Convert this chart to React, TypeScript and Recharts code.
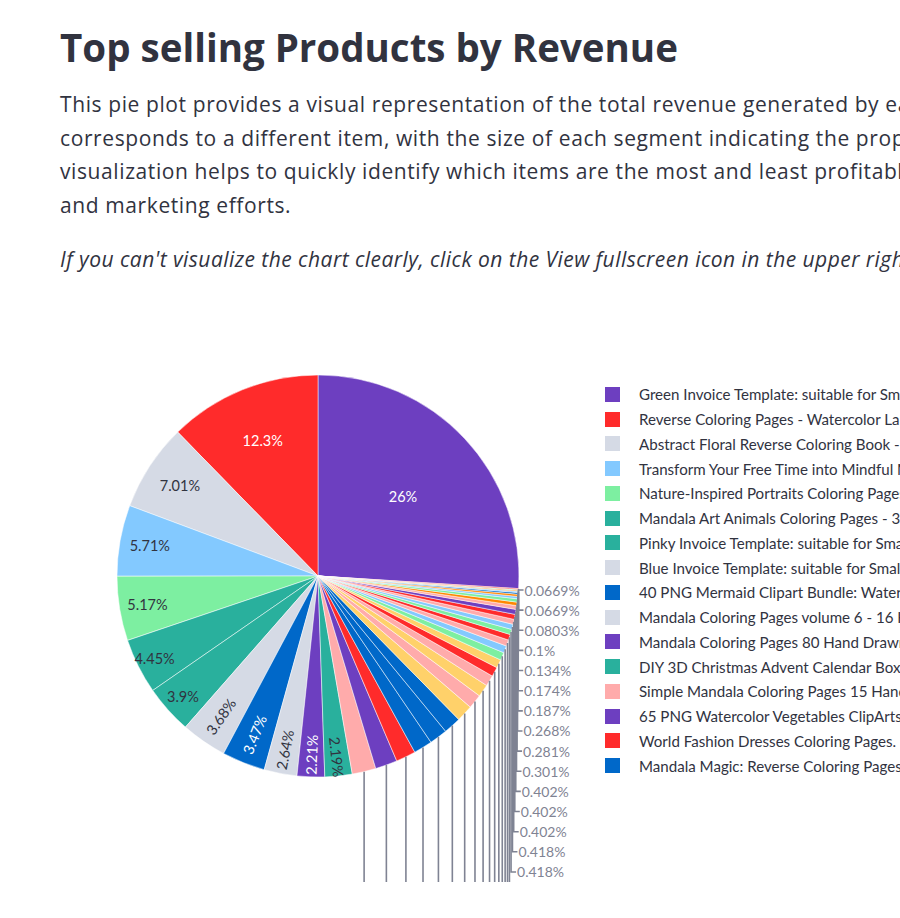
import { PieChart, Pie, Cell, Legend } from "recharts";

// Streamlit categorical palette
const PURPLE = "#6d3fc0";
const RED = "#ff2b2b";
const GREY = "#d5dae5";
const LIGHT_BLUE = "#83c9ff";
const GREEN = "#7defa1";
const TEAL = "#29b09d";
const BLUE = "#0068c9";
const PINK = "#ffabab";
const YELLOW = "#ffd16a";
const ORANGE = "#ff8700";

const productNames = [
  "Green Invoice Template: suitable for Small Business",
  "Reverse Coloring Pages - Watercolor Landscapes",
  "Abstract Floral Reverse Coloring Book - 30 Pages",
  "Transform Your Free Time into Mindful Moments",
  "Nature-Inspired Portraits Coloring Pages",
  "Mandala Art Animals Coloring Pages - 30 Pages",
  "Pinky Invoice Template: suitable for Small Business",
  "Blue Invoice Template: suitable for Small Business",
  "40 PNG Mermaid Clipart Bundle: Watercolor",
  "Mandala Coloring Pages volume 6 - 16 Hand Drawn",
  "Mandala Coloring Pages 80 Hand Drawn",
  "DIY 3D Christmas Advent Calendar Boxes",
  "Simple Mandala Coloring Pages 15 Hand Drawn",
  "65 PNG Watercolor Vegetables ClipArts - Bundle",
  "World Fashion Dresses Coloring Pages. Fashion",
  "Mandala Magic: Reverse Coloring Pages for Adults",
];

// share of total revenue, %, largest first
const revenueShare = [
  26, 12.3, 7.01, 5.71, 5.17, 4.45, 3.9, 3.68, 3.47, 2.64, 2.21, 2.19,
  1.91, 1.77, 1.59, 1.5, 1.45, 1.4,
  1.34, 1.15, 1.0, 0.87, 0.76, 0.68, 0.62, 0.57, 0.5, 0.46,
  0.418, 0.418, 0.402, 0.402, 0.402, 0.301, 0.281, 0.268, 0.187, 0.174,
  0.134, 0.1, 0.0803, 0.0669, 0.0669,
];

const sliceColors = [
  PURPLE, RED, GREY, LIGHT_BLUE, GREEN, TEAL, TEAL, GREY, BLUE, GREY, PURPLE, TEAL,
  PINK, PURPLE, RED, BLUE, BLUE, BLUE,
  YELLOW, PINK, YELLOW, PINK, RED, YELLOW, GREEN, LIGHT_BLUE, PINK, RED,
  GREEN, LIGHT_BLUE, PINK, RED, PURPLE, PINK, ORANGE, GREEN, LIGHT_BLUE, ORANGE,
  BLUE, LIGHT_BLUE, ORANGE, GREEN, RED,
];

const data = revenueShare.map((share, i) => ({
  name: productNames[i] ?? "",
  share,
}));

const TEXT = "#31333f";
const MUTED = "#7f8393";
const DARK_FILLS = [PURPLE, RED, BLUE];
const RAD = Math.PI / 180;

// slices 0..11 carry their label inside, the rest get a leader line
const INSIDE_COUNT = 12;
const insideRadius = [0.58, 0.73, 0.82, 0.85, 0.86, 0.91, 0.9, 0.85, 0.85, 0.88, 0.89, 0.905];
const LABEL_TOP = 290;
const LABEL_STEP = 20.14;
const LEGEND_ROWS = 16;

function renderSliceLabel(props: any) {
  const { cx, cy, midAngle, outerRadius, index, value } = props;
  const cos = Math.cos(-midAngle * RAD);
  const sin = Math.sin(-midAngle * RAD);
  const text = `${value}%`;

  if (index < INSIDE_COUNT) {
    const r = outerRadius * insideRadius[index];
    const x = cx + r * cos;
    const y = cy + r * sin;
    let rotate = 0;
    if (index >= 7) {
      rotate = -midAngle;
      while (rotate < -90) rotate += 180;
      while (rotate > 90) rotate -= 180;
    }
    return (
      <text
        key={`in-${index}`}
        x={x}
        y={y}
        textAnchor="middle"
        dominantBaseline="central"
        transform={`rotate(${rotate} ${x} ${y})`}
        fill={DARK_FILLS.includes(sliceColors[index]) ? "#ffffff" : TEXT}
        fontFamily="Lato, sans-serif"
        fontSize={14.5}
      >
        {text}
      </text>
    );
  }

  const ex = cx + outerRadius * cos;
  const ey = cy + outerRadius * sin;
  const ly = LABEL_TOP + (revenueShare.length - 1 - index) * LABEL_STEP;
  return (
    <g key={`out-${index}`}>
      <path d={`M${ex},${ey}V${ly}H${ex + 5}`} stroke={MUTED} strokeWidth={1.6} fill="none" />
      <text
        x={ex + 6}
        y={ly}
        dominantBaseline="central"
        fill={MUTED}
        fontFamily="Lato, sans-serif"
        fontSize={14}
      >
        {text}
      </text>
    </g>
  );
}

// legend box only shows its first rows, like a scrolled legend
function renderLegend() {
  return (
    <div>
      {productNames.slice(0, LEGEND_ROWS).map((name, i) => (
        <div key={i} style={{ display: "flex", alignItems: "center", height: 24.75 }}>
          <span
            style={{
              width: 15,
              height: 15,
              background: sliceColors[i],
              marginRight: 19,
              flex: "none",
            }}
          />
          <span
            style={{
              fontFamily: "Lato, sans-serif",
              fontSize: 15.1,
              color: TEXT,
              whiteSpace: "nowrap",
            }}
          >
            {name}
          </span>
        </div>
      ))}
    </div>
  );
}

const bodyFont = "'Open Sans', sans-serif";

const introLines = [
  "This pie plot provides a visual representation of the total revenue generated by each product. Each slice",
  "corresponds to a different item, with the size of each segment indicating the proportion of revenue. This",
  "visualization helps to quickly identify which items are the most and least profitable, guiding inventory",
  "and marketing efforts.",
];

export default function App() {
  return (
    <div
      style={{
        position: "fixed",
        left: 0,
        top: 0,
        width: 900,
        height: 918,
        overflow: "hidden",
        background: "#ffffff",
        color: TEXT,
      }}
    >
      <div
        style={{
          position: "absolute",
          left: 60,
          top: 24,
          fontFamily: bodyFont,
          fontWeight: 700,
          fontSize: 38.5,
          lineHeight: "46px",
          whiteSpace: "nowrap",
        }}
      >
        Top selling Products by Revenue
      </div>
      <div
        style={{
          position: "absolute",
          left: 60,
          top: 88,
          fontFamily: bodyFont,
          fontSize: 21,
          letterSpacing: 0.6,
          lineHeight: "33.5px",
          whiteSpace: "nowrap",
        }}
      >
        {introLines.map((line, i) => (
          <div key={i}>{line}</div>
        ))}
      </div>
      <div
        style={{
          position: "absolute",
          left: 60,
          top: 243,
          fontFamily: bodyFont,
          fontStyle: "italic",
          fontSize: 21,
          letterSpacing: 0.45,
          lineHeight: "33.5px",
          whiteSpace: "nowrap",
        }}
      >
        If you can't visualize the chart clearly, click on the View fullscreen icon in the upper right corner.
      </div>

      <div style={{ position: "absolute", left: 0, top: 300, width: 900, height: 582, overflow: "hidden" }}>
        <PieChart width={900} height={582} margin={{ top: 0, right: 0, bottom: 0, left: 0 }}>
          <Pie
            data={data}
            dataKey="share"
            nameKey="name"
            cx={318}
            cy={276}
            outerRadius={201}
            startAngle={90 - revenueShare[0] * 3.6}
            endAngle={450 - revenueShare[0] * 3.6}
            stroke="#ffffff"
            strokeWidth={0.5}
            label={renderSliceLabel}
            labelLine={false}
            isAnimationActive={false}
          >
            {data.map((_, i) => (
              <Cell key={i} fill={sliceColors[i]} />
            ))}
          </Pie>
          <Legend
            layout="vertical"
            align="right"
            verticalAlign="top"
            content={renderLegend}
            wrapperStyle={{ left: 605, top: 82, width: 400, right: "auto" }}
          />
        </PieChart>
      </div>
    </div>
  );
}
